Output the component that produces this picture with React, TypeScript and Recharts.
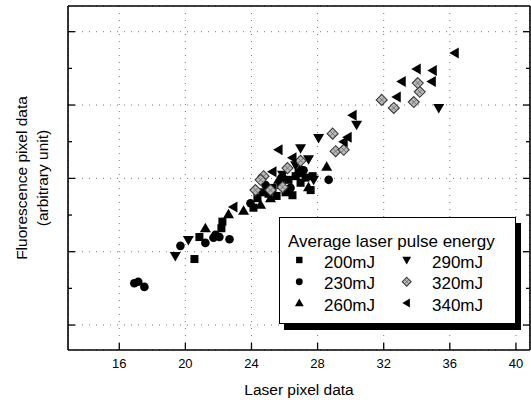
import React from 'react';
import { ScatterChart, Scatter, XAxis, YAxis, CartesianGrid, Legend } from 'recharts';

const CHART_W = 531;
const CHART_H = 400;
const MARGIN = { top: 6, right: 1, bottom: 50, left: 68 };
const THIN = 0.01;
const PLOT_LEFT = MARGIN.left;
const PLOT_RIGHT = CHART_W - MARGIN.right;
const PLOT_TOP = MARGIN.top;
const PLOT_BOTTOM = CHART_H - MARGIN.bottom;
const FONT = '"Liberation Sans", Arial, Helvetica, sans-serif';

const xDomain: [number, number] = [12.9, 40.85];
const yDomain: [number, number] = [0.66, 5.35];
const xMajorTicks = [16, 20, 24, 28, 32, 36, 40];
const xMinorTicks = [14, 18, 22, 26, 30, 34, 38];
const yMajorTicks = [1, 2, 3, 4, 5];
const yMinorTicks = [1.5, 2.5, 3.5, 4.5];

const xTitle = 'Laser pixel data';
const yTitle1 = 'Fluorescence pixel data';
const yTitle2 = '(arbitrary unit)';
const legendTitle = 'Average laser pulse energy';

const seriesNames = ['200mJ', '230mJ', '260mJ', '290mJ', '320mJ', '340mJ'];
const seriesShapes = ['square', 'circle', 'triangleUp', 'triangleDown', 'diamond', 'triangleLeft'];

const e200: [number, number][] = [
  [20.55, 1.9], [20.85, 2.2], [22.24, 2.41], [22.18, 2.32], [24.12, 2.6], [24.36, 2.73],
  [24.67, 2.81], [25.27, 2.87], [25.76, 2.91], [26.24, 2.98], [26.67, 3.03], [26.97, 2.94],
  [27.27, 3.01], [27.58, 2.84], [26.06, 2.81], [26.48, 2.77], [25.52, 2.76], [25.03, 2.79],
  [26.85, 3.07], [27.7, 3.03],
];
const e230: [number, number][] = [
  [16.91, 1.57], [17.15, 1.59], [17.52, 1.52], [19.7, 2.08], [21.21, 2.12], [21.7, 2.19],
  [22.06, 2.2], [22.67, 2.17], [21.82, 2.23], [28.67, 2.98], [24.85, 2.91], [26.36, 2.87],
  [27.15, 3.11], [25.88, 3.01], [23.94, 2.66],
];
const e260: [number, number][] = [
  [21.21, 2.32], [22.61, 2.51], [23.52, 2.56], [25.15, 2.73], [28.55, 3.16], [24.55, 2.64],
  [26.97, 3.14], [27.45, 2.88], [25.64, 2.98],
];
const e290: [number, number][] = [
  [19.39, 1.94], [20.18, 2.16], [26.97, 3.41], [27.45, 3.26], [28.06, 3.55], [30.36, 3.73],
  [35.33, 3.96], [27.76, 2.98], [26.67, 3.18], [25.88, 3.05],
];
const e320: [number, number][] = [
  [24.73, 3.03], [26.18, 3.14], [26.97, 3.24], [29.09, 3.37], [29.58, 3.39], [28.91, 3.61],
  [31.88, 4.07], [32.61, 3.96], [33.82, 4.04], [34.18, 4.18], [34.06, 4.3], [24.24, 2.84],
  [25.15, 2.84], [25.88, 2.88], [24.55, 2.98],
];
const e340: [number, number][] = [
  [22.91, 2.61], [25.27, 3.09], [25.64, 3.39], [26.48, 3.28], [29.58, 3.5], [29.82, 3.56],
  [30.12, 3.86], [32.79, 4.11], [33.09, 4.32], [34.91, 4.32], [34.0, 4.49], [34.97, 4.47],
  [36.3, 4.71],
];

const seriesValues = [e200, e230, e260, e290, e320, e340];
const toPoints = (arr: [number, number][]) => arr.map(([x, y]) => ({ x, y }));

function Marker({ kind, cx, cy, s = 1 }: { kind: string; cx: number; cy: number; s?: number }) {
  if (cx == null || cy == null || isNaN(cx) || isNaN(cy)) return null;
  const k = s;
  switch (kind) {
    case 'square':
      return <rect x={cx - 4 * k} y={cy - 4 * k} width={8 * k} height={8 * k} fill="#000" />;
    case 'circle':
      return <circle cx={cx} cy={cy} r={4.3 * k} fill="#000" />;
    case 'triangleUp':
      return <polygon points={`${cx},${cy - 5.5 * k} ${cx - 5.5 * k},${cy + 4 * k} ${cx + 5.5 * k},${cy + 4 * k}`} fill="#000" />;
    case 'triangleDown':
      return <polygon points={`${cx - 5.5 * k},${cy - 4 * k} ${cx + 5.5 * k},${cy - 4 * k} ${cx},${cy + 5.5 * k}`} fill="#000" />;
    case 'diamond':
      return (
        <g>
          <polygon
            points={`${cx},${cy - 5.5 * k} ${cx + 5.5 * k},${cy} ${cx},${cy + 5.5 * k} ${cx - 5.5 * k},${cy}`}
            fill="#b8b8b8"
            stroke="#3a3a3a"
            strokeWidth={1.1}
          />
          <path
            d={`M${cx - 2.5 * k},${cy - 2.5 * k}L${cx + 2.5 * k},${cy + 2.5 * k}M${cx + 2.5 * k},${cy - 2.5 * k}L${cx - 2.5 * k},${cy + 2.5 * k}`}
            stroke="#666"
            strokeWidth={0.8}
          />
        </g>
      );
    case 'triangleLeft':
      return <polygon points={`${cx - 5.5 * k},${cy} ${cx + 4 * k},${cy - 5.5 * k} ${cx + 4 * k},${cy + 5.5 * k}`} fill="#000" />;
    default:
      return null;
  }
}

type Side = 'bottom' | 'top' | 'left' | 'right';

const makeTick = (side: Side, len: number, withLabel = false) => (props: any) => {
  const { x, y, payload } = props;
  let line: React.ReactNode = null;
  if (side === 'bottom') line = <line x1={x} x2={x} y1={PLOT_BOTTOM} y2={PLOT_BOTTOM - len} stroke="#000" strokeWidth={1.3} />;
  if (side === 'top') line = <line x1={x} x2={x} y1={PLOT_TOP} y2={PLOT_TOP + len} stroke="#000" strokeWidth={1.3} />;
  if (side === 'left') line = <line x1={PLOT_LEFT} x2={PLOT_LEFT + len} y1={y} y2={y} stroke="#000" strokeWidth={1.3} />;
  if (side === 'right') line = <line x1={PLOT_RIGHT} x2={PLOT_RIGHT - len} y1={y} y2={y} stroke="#000" strokeWidth={1.3} />;
  return (
    <g>
      {line}
      {withLabel ? (
        <text x={x} y={PLOT_BOTTOM + 18} textAnchor="middle" fontSize={13} fontFamily={FONT} fill="#000">
          {payload.value}
        </text>
      ) : null}
    </g>
  );
};

const BottomMajorTick = makeTick('bottom', 7, true);
const BottomMinorTick = makeTick('bottom', 4);
const TopMajorTick = makeTick('top', 7);
const TopMinorTick = makeTick('top', 4);
const LeftMajorTick = makeTick('left', 7);
const LeftMinorTick = makeTick('left', 4);
const RightMajorTick = makeTick('right', 7);
const RightMinorTick = makeTick('right', 4);

const XTitle = (props: any) => {
  const vb = props.viewBox || {};
  const cx = (vb.x ?? MARGIN.left) + (vb.width ?? 0) / 2;
  return (
    <text x={cx} y={PLOT_BOTTOM + 45} textAnchor="middle" fontSize={15.5} fontFamily={FONT} fill="#000">
      {xTitle}
    </text>
  );
};

const YTitle = (props: any) => {
  const vb = props.viewBox || {};
  const cy = (vb.y ?? MARGIN.top) + (vb.height ?? 0) / 2;
  return (
    <g>
      <text transform="rotate(-90)" x={-cy} y={26.5} textAnchor="middle" fontSize={15.5} fontFamily={FONT} fill="#000">
        {yTitle1}
      </text>
      <text transform="rotate(-90)" x={-cy} y={47.5} textAnchor="middle" fontSize={15.5} fontFamily={FONT} fill="#000">
        {yTitle2}
      </text>
    </g>
  );
};

const LegendBox = () => {
  const rowBase = [51, 72.3, 93.7];
  const symY = [43, 64.7, 86];
  const colSym = [20.3, 127.7];
  const colText = [45, 153];
  return (
    <svg width={243} height={114} style={{ display: 'block' }}>
      <rect x={5} y={6} width={237} height={107} fill="#000" />
      <rect x={0.5} y={0.5} width={236} height={106} fill="#fff" stroke="#000" strokeWidth={1} />
      <text x={9} y={29.7} fontSize={17} fontFamily={FONT} fill="#000">
        {legendTitle}
      </text>
      {seriesNames.map((name, i) => {
        const col = i < 3 ? 0 : 1;
        const row = i % 3;
        return (
          <g key={name}>
            <Marker kind={seriesShapes[i]} cx={colSym[col]} cy={symY[row]} s={0.8} />
            <text x={colText[col]} y={rowBase[row]} fontSize={17} fontFamily={FONT} fill="#000">
              {name}
            </text>
          </g>
        );
      })}
    </svg>
  );
};

const axisLineStyle = { stroke: '#000', strokeWidth: 1.6 };

const commonX = {
  type: 'number' as const,
  domain: xDomain,
  interval: 0 as const,
  allowDataOverflow: true,
  height: THIN,
  tickSize: 0,
  tickLine: false,
};
const commonY = {
  type: 'number' as const,
  domain: yDomain,
  interval: 0 as const,
  allowDataOverflow: true,
  width: THIN,
  tickSize: 0,
  tickLine: false,
};

export default function App() {
  return (
    <div style={{ position: 'absolute', left: 0, top: 0, width: CHART_W, height: CHART_H, background: '#fff' }}>
      <ScatterChart width={CHART_W} height={CHART_H} margin={MARGIN}>
        <CartesianGrid stroke="#777" strokeDasharray="1 6" strokeWidth={1} />
        <XAxis
          {...commonX}
          xAxisId={0}
          dataKey="x"
          ticks={xMajorTicks}
          axisLine={axisLineStyle}
          tick={BottomMajorTick}
          label={{ content: (p: any) => <XTitle {...p} /> }}
        />
        <XAxis {...commonX} xAxisId="xm" ticks={xMinorTicks} axisLine={false} tick={BottomMinorTick} />
        <XAxis {...commonX} xAxisId="xt" orientation="top" ticks={xMajorTicks} axisLine={axisLineStyle} tick={TopMajorTick} />
        <XAxis {...commonX} xAxisId="xtm" orientation="top" ticks={xMinorTicks} axisLine={false} tick={TopMinorTick} />
        <YAxis
          {...commonY}
          yAxisId={0}
          dataKey="y"
          ticks={yMajorTicks}
          axisLine={axisLineStyle}
          tick={LeftMajorTick}
          label={{ content: (p: any) => <YTitle {...p} /> }}
        />
        <YAxis {...commonY} yAxisId="ym" ticks={yMinorTicks} axisLine={false} tick={LeftMinorTick} />
        <YAxis {...commonY} yAxisId="yr" orientation="right" ticks={yMajorTicks} axisLine={axisLineStyle} tick={RightMajorTick} />
        <YAxis {...commonY} yAxisId="yrm" orientation="right" ticks={yMinorTicks} axisLine={false} tick={RightMinorTick} />
        {seriesNames.map((name, i) => (
          <Scatter
            key={name}
            name={name}
            data={toPoints(seriesValues[i])}
            fill="#000"
            isAnimationActive={false}
            shape={(p: any) => <Marker kind={seriesShapes[i]} cx={p.cx} cy={p.cy} />}
          />
        ))}
        <Legend
          layout="horizontal"
          verticalAlign="middle"
          align="center"
          content={() => <LegendBox />}
          wrapperStyle={{ left: 279, top: 217, width: 243, height: 114 }}
        />
      </ScatterChart>
    </div>
  );
}
